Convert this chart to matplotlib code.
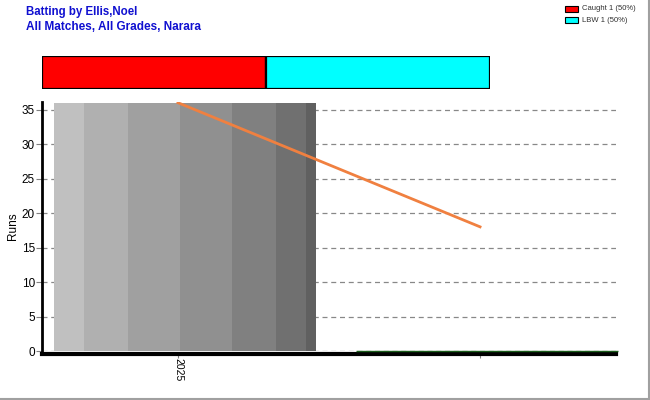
import numpy as np
import matplotlib
matplotlib.use('Agg')
import matplotlib.pyplot as plt
from matplotlib.patches import Rectangle

# data
seasons = ['2025', '']
runs = [36, 0]
trend = [36, 18]
dismissals = ['Caught', 'LBW']
dismissal_counts = [1, 1]
dismissal_colors = ['#ff0000', '#00ffff']

plt.rcParams['font.family'] = ['Liberation Sans', 'DejaVu Sans']

fig = plt.figure(figsize=(6.5, 4), dpi=100)
W, H = 650, 400

# window frame on right / bottom
fig.add_artist(plt.Line2D([648.5 / W, 648.5 / W], [0, 1], color='#a0a0a0', lw=1.5))
fig.add_artist(plt.Line2D([0, 1], [1.5 / H, 1.5 / H], color='#a0a0a0', lw=1.5))

# titles
fig.text(26 / W, 1 - 12 / H, 'Batting by Ellis,Noel', color='#1010d0', fontsize=8.3,
         fontweight='bold', va='center')
fig.text(26 / W, 1 - 27 / H, 'All Matches, All Grades, Narara', color='#1010d0', fontsize=8.5,
         fontweight='bold', va='center')

# legend top right
for k, (lab, c, col) in enumerate(zip(dismissals, dismissal_counts, dismissal_colors)):
    y = 9 + k * 11
    fig.add_artist(Rectangle((565 / W, 1 - (y + 3) / H), 13 / W, 6 / H, facecolor=col,
                             edgecolor='black', lw=0.8))
    pct = 100 * c / sum(dismissal_counts)
    fig.text(582 / W, 1 - y / H, f'{lab} {c} ({pct:.0f}%)', fontsize=5.5, va='center',
             color='#303030')

# dismissal stacked bar
bax = fig.add_axes([42 / W, 1 - 89 / H, 448 / W, 33 / H])
left = 0
for c, col in zip(dismissal_counts, dismissal_colors):
    bax.barh(0, c, left=left, height=1, color=col, edgecolor='black', lw=1.6)
    left += c
bax.set_xlim(0, sum(dismissal_counts))
bax.set_ylim(-0.5, 0.5)
bax.axis('off')

# main axes
ax = fig.add_axes([42 / W, 1 - 351 / H, 574 / W, 249 / H])
for s in ['top', 'right']:
    ax.spines[s].set_visible(False)
ax.spines['left'].set_linewidth(2)
ax.spines['bottom'].set_linewidth(3)
ax.spines['bottom'].set_position(('outward', 2))
ax.set_xlim(-0.45, 1.45)
ax.set_ylim(0, 36.1)

x = np.arange(len(seasons))
bar_left = -0.41
bar_w = 0.867
# gray shaded bar built from vertical strips
fracs = np.array([30, 44, 52, 52, 44, 30, 10], dtype=float)
fracs /= fracs.sum()
grays = ['#c0c0c0', '#b0b0b0', '#a0a0a0', '#909090', '#808080', '#707070', '#606060']
for i, r in enumerate(runs):
    if r > 0:
        l = x[i] + bar_left
        for f, g in zip(fracs, grays):
            ax.bar(l, r, width=f * bar_w, align='edge', color=g, lw=0, zorder=2)
            l += f * bar_w
    else:
        ax.plot([x[i] + bar_left, x[i] + bar_left + bar_w], [r, r], color='#1a5c1a',
                lw=1.0, zorder=5, solid_capstyle='butt', clip_on=False)

ax.plot(x, trend, color='#f08040', lw=2, zorder=4)

ax.set_yticks(range(0, 40, 5))
ax.yaxis.grid(True, linestyle=(0, (4, 3)), color='#888888', lw=0.9)
ax.set_axisbelow(True)
ax.set_xticks(x)
ax.set_xticklabels(seasons, rotation=-90, fontsize=7.5)
ax.tick_params(axis='y', labelsize=8.5, length=4, color='#808080', pad=1)
ax.tick_params(axis='x', length=3, color='#808080', pad=0)
ax.set_ylabel('Runs', fontsize=8.5)
ax.yaxis.set_label_coords((19 - 42) / 574, 0.5)

fig.savefig('out.png', dpi=100)
